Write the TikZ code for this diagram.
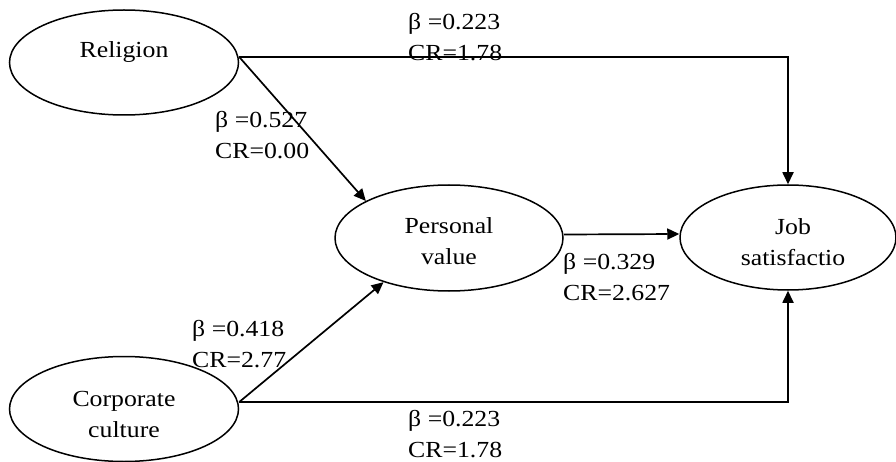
\documentclass[tikz,border=0pt]{standalone}
\usepackage{fontspec}
\setmainfont[FakeStretch=1.12]{Liberation Serif}
\usetikzlibrary{shapes.geometric,arrows.meta}
\begin{document}
\begin{tikzpicture}[x=1pt,y=-1pt,
  lv/.style={draw, ellipse, line width=1.5pt, inner sep=0pt},
  txt/.style={font=\fontsize{23}{31}\selectfont, align=center, inner sep=0pt},
  coef/.style={font=\fontsize{23}{31}\selectfont, align=left, anchor=west, inner sep=0pt},
  link/.style={line width=1.7pt, -{Triangle[length=12pt,width=11pt]}}]
\useasboundingbox (0,0) rectangle (896,462);
% latent variables
\node[lv, minimum width=229pt, minimum height=105pt] (rel) at (124,62.5) {};
\node[lv, minimum width=229pt, minimum height=105pt] (corp) at (124,409) {};
\node[lv, minimum width=228pt, minimum height=106pt] (pv) at (449,238) {};
\node[lv, minimum width=216pt, minimum height=105pt] (job) at (788,237.5) {};
% texts
\node[txt] (reltxt) at (124,52) {Religion};
\node[txt] (corptxt) at (124,414) {Corporate\\culture};
\node[txt] (pvtxt) at (449,241) {Personal\\value};
\node[txt] (jobtxt) at (793,242) {Job\\satisfactio};
% connectors
\draw[link] ([yshift=5.5pt]rel.east) -| (job.north);
\draw[link] ([yshift=5.5pt]rel.east) -- (pv.156);
\draw[link] ([yshift=7pt]corp.east) -- (pv.214);
\draw[link] ([yshift=7pt]corp.east) -| (job.south);
\draw[link] ([yshift=3.5pt]pv.east) -- ([yshift=3.5pt]job.west);
% coefficients
\node[coef] (c1) at (408,37.5) {β =0.223\\CR=1.78};
\node[coef] (c2) at (215,135) {β =0.527\\CR=0.00};
\node[coef] (c3) at (192,344) {β =0.418\\CR=2.77};
\node[coef] (c4) at (563,277) {β =0.329\\CR=2.627};
\node[coef] (c5) at (408,434) {β =0.223\\CR=1.78};
\end{tikzpicture}
\end{document}
